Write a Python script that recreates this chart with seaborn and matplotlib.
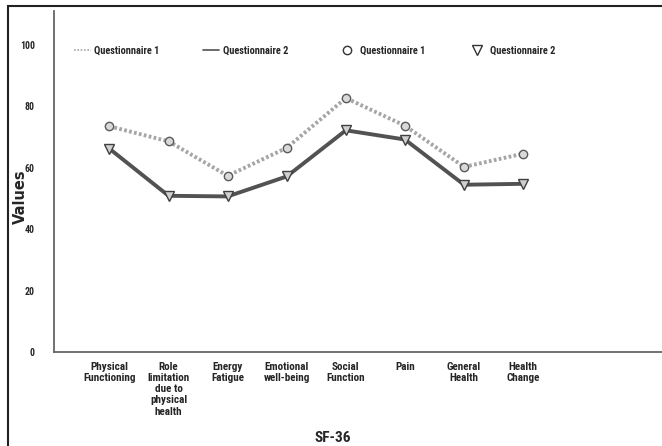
import numpy as np
import pandas as pd
import matplotlib.pyplot as plt
import seaborn as sns
from matplotlib.lines import Line2D
from matplotlib.patches import Rectangle
from matplotlib import font_manager

domains = ["Physical\nFunctioning", "Role\nlimitation\ndue to\nphysical\nhealth",
           "Energy\nFatigue", "Emotional\nwell-being", "Social\nFunction", "Pain",
           "General\nHealth", "Health\nChange"]
q1 = [73.4, 68.5, 57.3, 66.4, 82.6, 73.6, 60.2, 64.5]
q2 = [66.1, 50.8, 50.6, 57.1, 72.1, 69.1, 54.4, 54.7]
yticks = [0, 20, 40, 60, 80, 100]

# pick a narrow font if one is installed
installed = {f.name for f in font_manager.fontManager.ttflist}
narrow = [n for n in ["Liberation Sans Narrow", "Roboto Condensed", "Open Sans Condensed"]
          if n in installed]

sns.set_style("white")
plt.rcParams['font.family'] = narrow + ['DejaVu Sans']
plt.rcParams['font.stretch'] = 'condensed'
plt.rcParams['font.weight'] = 'bold'

df = pd.DataFrame({"pos": np.arange(len(domains)), "Questionnaire 1": q1, "Questionnaire 2": q2})

W, H = 662, 446
fig = plt.figure(figsize=(W / 100, H / 100), dpi=100)
ax = fig.add_axes([54.3 / W, (H - 352) / H, (W - 54.3) / W, (352 - 10.7) / H])

c1 = "#a6a6a6"
c2 = "#525252"
sns.lineplot(data=df, x="pos", y="Questionnaire 1", ax=ax, color=c1, lw=2.8,
             linestyle=(0, (0.7, 0.6)), marker="o", ms=6, mfc="#d9d9d9", mec="#5a5a5a", mew=1)
sns.lineplot(data=df, x="pos", y="Questionnaire 2", ax=ax, color=c2, lw=2.8,
             marker="v", ms=6.5, mfc="#d0d0d0", mec="#404040", mew=1)

ax.set_xlim(-0.934, 9.35)
ax.set_ylim(0, 111)
ax.set_xticks(df["pos"])
ax.set_xticklabels(domains, fontsize=8, fontweight="bold", linespacing=1.15)
ax.set_yticks(yticks)
ax.set_yticklabels([str(t) for t in yticks], fontsize=7, fontweight="bold")
ax.tick_params(axis="both", length=0)
ax.tick_params(axis="x", pad=7)
ax.tick_params(axis="y", pad=14)
for s in ["top", "right"]:
    ax.spines[s].set_visible(False)
for s in ["left", "bottom"]:
    ax.spines[s].set_color("#666666")
    ax.spines[s].set_linewidth(1.3)

ax.set_xlabel("")
ax.set_ylabel("")
fig.text(20 / W, 1 - 197 / H, "Values", rotation=90, ha="center", va="center",
         fontsize=10.5, fontweight="heavy", family="DejaVu Sans", fontstretch="normal")
fig.text(333 / W, 1 - 438 / H, "SF-36", ha="center", va="center",
         fontsize=11, fontweight="bold")

line_handles = [Line2D([], [], color=c1, ls=(0, (1, 1)), lw=1.2),
                Line2D([], [], color=c2, ls="-", lw=1.2)]
marker_handles = [Line2D([], [], ls="none", marker="o", ms=6, mfc="white", mec="#333333", mew=1),
                  Line2D([], [], ls="none", marker="v", ms=6.5, mfc="white", mec="#333333", mew=1)]
labels = ["Questionnaire 1", "Questionnaire 2"]
leg1 = fig.legend(line_handles, labels, loc="center left", ncol=2, frameon=False,
                  bbox_to_anchor=(74 / W, 1 - 51 / H), fontsize=7.5, handlelength=1.6,
                  handletextpad=0.3, columnspacing=4.2, borderaxespad=0, borderpad=0)
leg2 = fig.legend(marker_handles, labels, loc="center left", ncol=2, frameon=False,
                  bbox_to_anchor=(339 / W, 1 - 51 / H), fontsize=7.5, handlelength=1.6,
                  handletextpad=0.4, columnspacing=4.2, borderaxespad=0, borderpad=0)
for leg in (leg1, leg2):
    for t in leg.get_texts():
        t.set_fontweight("bold")

# outer frame, cut off on the right and bottom
fig.patches.append(Rectangle((8 / W, -0.1), 1.2, 1 - 6 / H + 0.1, transform=fig.transFigure,
                             fill=False, edgecolor="#222222", lw=1.5))

fig.savefig("out.png", dpi=100)
